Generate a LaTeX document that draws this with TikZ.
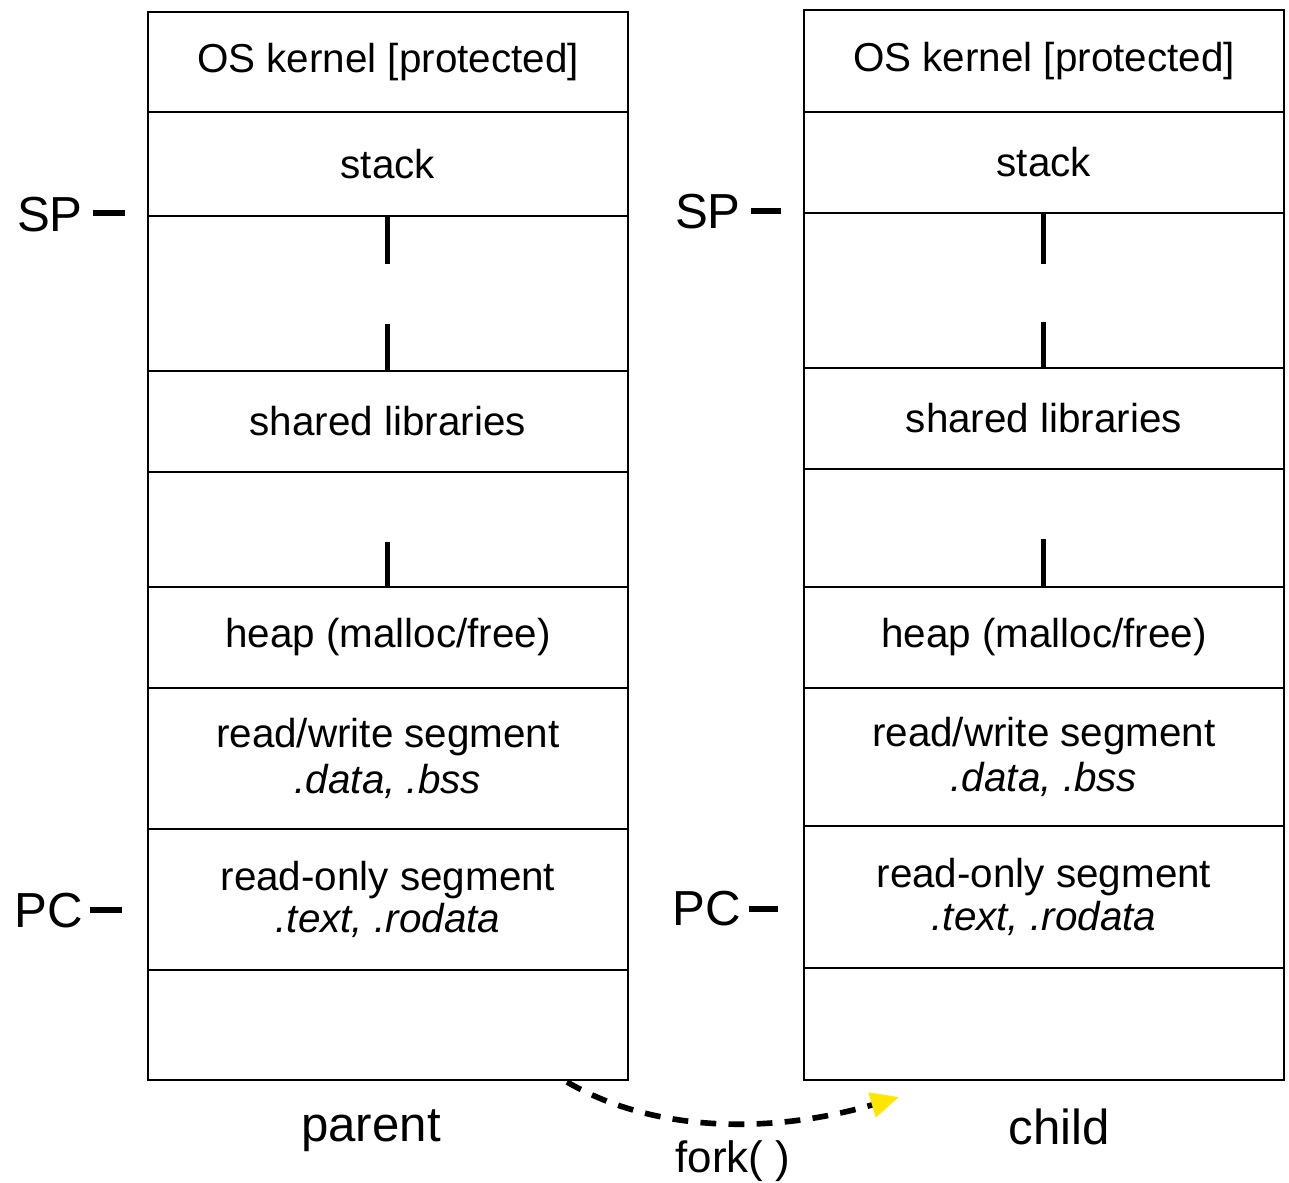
\documentclass[tikz,border=0pt]{standalone}
\usepackage{fontspec}
\setmainfont{Liberation Sans}
\usetikzlibrary{arrows.meta}
\definecolor{forkyellow}{RGB}{255,229,0}
\tikzset{
seg/.style={draw, line width=1.1pt, inner sep=0pt, minimum width=9.6cm, anchor=north west, align=center, font=\fontsize{23}{27}\selectfont},
gap/.style={line width=2.8pt},
tick/.style={line width=3.2pt},
side/.style={font=\fontsize{28}{32}\selectfont, inner sep=0pt}}

\begin{document}
\begin{tikzpicture}[x=0.02cm, y=-0.02cm]
    \useasboundingbox (0,0) rectangle (1289,1183);

                % parent
                \node[seg, minimum height=2.00cm] (pk) at (147,11) {OS kernel [protected]};
                \node[seg, minimum height=2.08cm] (ps) at (147,111) {stack};
                \node[seg, minimum height=3.10cm] (pg1) at (147,215) {};
                \node[seg, minimum height=2.02cm] (pl) at (147,370) {shared libraries};
                \node[seg, minimum height=2.30cm] (pg2) at (147,471) {};
                \node[seg, minimum height=2.02cm] (ph) at (147,586) {heap (malloc/free)};
                \node[seg, minimum height=2.82cm] (pd) at (147,687) {read/write segment\\[-1pt]\textit{.data, .bss}};
                \node[seg, minimum height=2.82cm] (pt) at (147,828) {read-only segment\\[-3pt]\textit{.text, .rodata}};
                \node[seg, minimum height=2.20cm] (pb) at (147,969) {};

                % child
                \node[seg, minimum height=2.04cm] (ck) at (803,9) {OS kernel [protected]};
                \node[seg, minimum height=2.02cm] (cs) at (803,111) {stack};
                \node[seg, minimum height=3.10cm] (cg1) at (803,212) {};
                \node[seg, minimum height=2.02cm] (cl) at (803,367) {shared libraries};
                \node[seg, minimum height=2.36cm] (cg2) at (803,468) {};
                \node[seg, minimum height=2.02cm] (ch) at (803,586) {heap (malloc/free)};
                \node[seg, minimum height=2.76cm] (cd) at (803,687) {read/write segment\\[-1pt]\textit{.data, .bss}};
                \node[seg, minimum height=2.84cm] (ct) at (803,825) {read-only segment\\[-3pt]\textit{.text, .rodata}};
                \node[seg, minimum height=2.24cm] (cb) at (803,967) {};

                % growth marks
                \draw[gap] (pg1.north) -- ++(0,49);
                \draw[gap] (pg1.south) -- ++(0,-48);
                \draw[gap] (pg2.south) -- ++(0,-46);
                \draw[gap] (cg1.north) -- ++(0,52);
                \draw[gap] (cg1.south) -- ++(0,-47);
                \draw[gap] (cg2.south) -- ++(0,-49);

                % registers
                \node[side, anchor=east] (psp) at (83,215) {SP};
                \node[side, anchor=east] (ppc) at (83,911) {PC};
                \node[side, anchor=east] (csp) at (741,212) {SP};
                \node[side, anchor=east] (cpc) at (741,909) {PC};
                \draw[tick] (93,213) -- (125,213);
                \draw[tick] (90,910) -- (122,910);
                \draw[tick] (751,211) -- (781,211);
                \draw[tick] (749,909) -- (778,909);

                % labels
                \node[side] (parent) at (371,1131) {parent};
                \node[side] (child) at (1059,1127) {child};
                \node[side, font=\fontsize{25}{29}\selectfont] (fork) at (733,1161) {fork( )};

                \coordinate (fs) at (567,1082);
                \coordinate (fe) at (899,1097);
                \draw[line width=3.2pt, dash pattern=on 9pt off 7pt, -{Triangle[color=forkyellow, length=16pt, width=14pt]}]
                    (fs) .. controls (660,1136) and (780,1132) .. (fe);

            \end{tikzpicture}
\end{document}
